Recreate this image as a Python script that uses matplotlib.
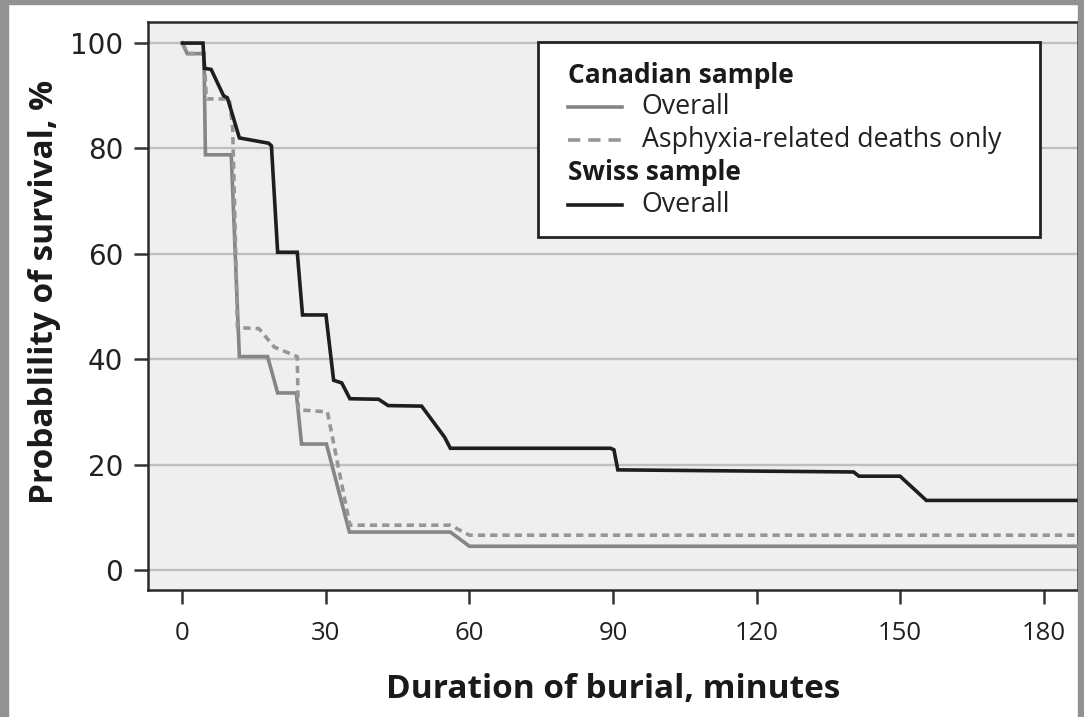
import matplotlib
matplotlib.use("Agg")
import matplotlib.pyplot as plt
from matplotlib.patches import Rectangle
from matplotlib.lines import Line2D

# ---- data ----
swiss_t = [0, 4.3, 4.6, 6, 8.6, 9.4, 11.9, 18, 18.6, 19.9, 24, 25.1, 30, 31.6, 33.3, 35,
           41, 43, 50, 54.8, 56, 89.5, 90.2, 91, 140.3, 141.4, 150, 155.5, 187.2]
swiss_s = [100, 100, 95.2, 95, 90, 89.6, 82, 81, 80.5, 60.3, 60.3, 48.4, 48.4, 36, 35.5, 32.5,
           32.4, 31.2, 31.1, 25.2, 23.1, 23.1, 22.8, 19, 18.6, 17.8, 17.8, 13.2, 13.2]

can_t = [0, 1, 4.5, 4.8, 10.2, 11.9, 17.8, 19.9, 23.8, 24.9, 30.1, 34.9, 56, 60, 187.2]
can_s = [100, 98, 98, 78.8, 78.8, 40.5, 40.5, 33.6, 33.6, 23.9, 23.9, 7.2, 7.2, 4.5, 4.5]

asph_t = [0, 1, 4.5, 5, 9.8, 10.5, 11.5, 16, 19.2, 22.4, 24, 24.2, 30.3, 35, 56, 60, 187.2]
asph_s = [100, 98, 98, 89.4, 89.4, 84, 46, 45.8, 42.3, 41.1, 40.5, 30.4, 30, 8.5, 8.5, 6.6, 6.6]

x_ticks = [0, 30, 60, 90, 120, 150, 180]
y_ticks = [0, 20, 40, 60, 80, 100]

FONT = "Open Sans"
GRAY_LINE = "#858585"
DASH_LINE = "#969696"
BLACK_LINE = "#1e1e1e"
LW = 2.6

W, H = 1084, 717
fig = plt.figure(figsize=(W / 100, H / 100), dpi=100)
fig.patch.set_facecolor("white")

# gray outer frame of the picture
border = "#929292"
fig.patches.append(Rectangle((0, 0), 8 / W, 1, transform=fig.transFigure, color=border, zorder=0))
fig.patches.append(Rectangle((0, 1 - 4 / H), 1, 4 / H, transform=fig.transFigure, color=border, zorder=0))
fig.patches.append(Rectangle((1 - 6 / W, 0), 6 / W, 1, transform=fig.transFigure, color=border, zorder=0))

ax = fig.add_axes([148 / W, (H - 590) / H, 930 / W, 568 / H])
ax.set_facecolor("#efefef")
ax.set_xlim(-7.2, 187.2)
ax.set_ylim(-3.8, 104)

for y in y_ticks:
    ax.axhline(y, color="#bfbfbf", lw=1.7, zorder=1)

ax.plot(can_t, can_s, color=GRAY_LINE, lw=LW, zorder=3, solid_joinstyle="miter")
ax.plot(asph_t, asph_s, color=DASH_LINE, lw=LW, ls=(0, (2.0, 1.4)), zorder=3)
ax.plot(swiss_t, swiss_s, color=BLACK_LINE, lw=LW, zorder=4, solid_joinstyle="miter")

for s in ax.spines.values():
    s.set_color("#2a2a2a")
    s.set_linewidth(1.8)

ax.set_xticks(x_ticks)
ax.set_yticks(y_ticks)
ax.set_xticklabels([str(v) for v in x_ticks], fontsize=18.5, family=FONT, color="#222222")
ax.set_yticklabels([str(v) for v in y_ticks], fontsize=20, family="DejaVu Sans", color="#222222")
ax.tick_params(axis="both", direction="out", length=10, width=1.8, color="#333333")
ax.tick_params(axis="y", pad=8)
ax.tick_params(axis="x", pad=12)

ax.set_xlabel("Duration of burial, minutes", fontsize=24, fontweight="bold", family=FONT,
              color="#1a1a1a")
ax.set_ylabel("Probablility of survival, %", fontsize=24, fontweight="bold", family=FONT,
              color="#1a1a1a")
ax.xaxis.set_label_coords(0.5, -0.176)
ax.xaxis.label.set_va("center")
ax.yaxis.set_label_coords(-0.111, 0.525)
ax.yaxis.label.set_va("center")

# ---- manual legend (axes fraction coordinates) ----
lx0, lx1, ly0, ly1 = 0.419, 0.959, 0.621, 0.965
ax.add_patch(Rectangle((lx0, ly0), lx1 - lx0, ly1 - ly0, transform=ax.transAxes,
                       facecolor="white", edgecolor="#222222", lw=2.0, zorder=6))
hx0, hx1, tx = 0.452, 0.510, 0.531
rows = [
    ("Canadian sample", None, None, 0.905),
    ("Overall", GRAY_LINE, "-", 0.850),
    ("Asphyxia-related deaths only", DASH_LINE, (0, (3.4, 2.2)), 0.793),
    ("Swiss sample", None, None, 0.735),
    ("Overall", BLACK_LINE, "-", 0.677),
]
for label, col, ls, yy in rows:
    if col is None:
        ax.text(hx0, yy, label, transform=ax.transAxes, fontsize=19, fontweight="bold",
                family=FONT, va="center", ha="left", color="#1a1a1a", zorder=7)
    else:
        ax.add_line(Line2D([hx0, hx1], [yy, yy], transform=ax.transAxes, color=col, lw=LW,
                           ls=ls, zorder=7))
        ax.text(tx, yy, label, transform=ax.transAxes, fontsize=19.3, family=FONT,
                va="center", ha="left", color="#222222", zorder=7)

fig.savefig("out.png", dpi=100)
